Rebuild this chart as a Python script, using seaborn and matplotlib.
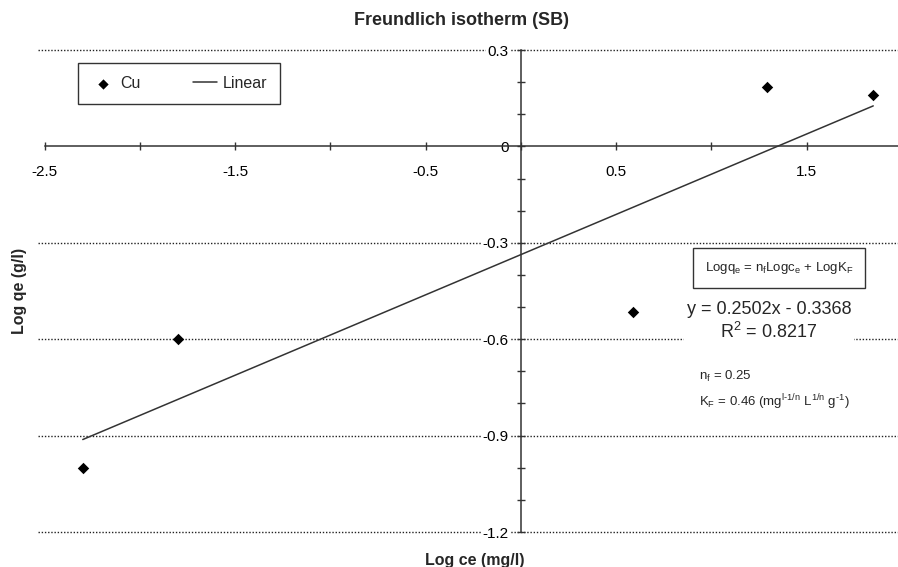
import numpy as np
import pandas as pd
import seaborn as sns
from matplotlib import pyplot as plt

# Freundlich isotherm data
log_ce = [-2.30, -1.80, 0.59, 1.29, 1.85]
log_qe = [-1.00, -0.60, -0.516, 0.184, 0.159]
slope = 0.2502
intercept = -0.3368
r2 = 0.8217

xtick_pos = [-2.5, -1.5, -0.5, 0.5, 1.5]
xtick_labels = ["-2.5", "-1.5", "-0.5", "0.5", "1.5"]
xtick_minor = [-2.0, -1.0, 0.0, 1.0]
ytick_pos = [-1.2, -0.9, -0.6, -0.3, 0.0, 0.3]
ytick_labels = ["-1.2", "-0.9", "-0.6", "-0.3", "0", "0.3"]
ytick_minor = [-1.1, -1.0, -0.8, -0.7, -0.5, -0.4, -0.2, -0.1, 0.1, 0.2]

sns.set_style("white")
plt.rcParams['font.family'] = ['Liberation Sans', 'DejaVu Sans']
plt.rcParams['mathtext.fontset'] = 'custom'
plt.rcParams['mathtext.rm'] = 'Liberation Sans'
plt.rcParams['mathtext.it'] = 'Liberation Sans:italic'
plt.rcParams['mathtext.default'] = 'regular'

df = pd.DataFrame({'log_ce': log_ce, 'log_qe': log_qe})
# fitted line over the data range
fit = pd.DataFrame({'x': [min(log_ce), max(log_ce)]})
fit['y'] = slope * fit.x + intercept

fig = plt.figure(figsize=(8.98, 5.67), dpi=100)
ax = fig.add_axes([38 / 898, 35 / 567, 860 / 898, 482 / 567])

sns.scatterplot(data=df, x='log_ce', y='log_qe', marker='D', color='black',
                s=34, edgecolor='black', linewidth=0, label='Cu', ax=ax, zorder=4)
sns.lineplot(data=fit, x='x', y='y', color='#333333', linewidth=1.1,
             label='Linear', ax=ax, zorder=3)

ax.set_xlim(-2.535, 1.98)
ax.set_ylim(-1.2, 0.3)

# dotted horizontal grid
for yv in ytick_pos:
    if yv != 0:
        ax.axhline(yv, color='#222222', linestyle=(0, (1, 1.3)), linewidth=1.0,
                   zorder=0.5, clip_on=False)

# axes crossing at origin
for side in ['top', 'right']:
    ax.spines[side].set_visible(False)
ax.spines['left'].set_position(('data', 0))
ax.spines['bottom'].set_position(('data', 0))
ax.spines['bottom'].set_bounds(-2.5, 1.98)
for side in ['left', 'bottom']:
    ax.spines[side].set_color('#333333')
    ax.spines[side].set_linewidth(1.1)

ax.set_xticks(xtick_pos)
ax.set_xticklabels(xtick_labels)
ax.set_xticks(xtick_minor, minor=True)
ax.set_yticks(ytick_pos)
ax.set_yticklabels(ytick_labels)
ax.set_yticks(ytick_minor, minor=True)
ax.tick_params(which='both', bottom=True, left=True, direction='inout', length=5.5,
               width=1, color='#333333', labelsize=11, labelcolor='black')
ax.tick_params(axis='y', which='major', pad=6)
ax.tick_params(axis='x', which='major', pad=11)
for lab in ax.get_yticklabels():
    lab.set_bbox(dict(facecolor='white', edgecolor='none', pad=1))

ax.set_title('Freundlich isotherm (SB)', fontsize=13, fontweight='bold', pad=18, x=0.492)
ax.set_xlabel('Log ce (mg/l)', fontsize=11.5, fontweight='bold')
ax.set_ylabel('Log qe (g/l)', fontsize=11.5, fontweight='bold')
ax.xaxis.set_label_coords(0.508, -0.043)
ax.yaxis.set_label_coords(-0.013, 0.5)

leg = ax.legend(loc='upper left', bbox_to_anchor=(0.0465, 0.973), borderaxespad=0,
                ncol=2, fontsize=11.5, frameon=True, fancybox=False, edgecolor='black',
                borderpad=0.8, columnspacing=3.3, handlelength=1.5, handletextpad=0.35,
                markerscale=0.9)
leg.get_frame().set_linewidth(1.0)

ax.text(0.862, 0.547, r'Logq$_e$ = n$_f$Logc$_e$ + LogK$_F$', transform=ax.transAxes,
        ha='center', va='center', fontsize=9.5,
        bbox=dict(boxstyle='square,pad=0.9', facecolor='white', edgecolor='#333333', linewidth=1))
ax.text(0.850, 0.437, f'y = {slope:.4f}x - {abs(intercept):.4f}\nR$^2$ = {r2:.4f}',
        transform=ax.transAxes, ha='center', va='center', fontsize=13, linespacing=1.25,
        bbox=dict(boxstyle='square,pad=0.15', facecolor='white', edgecolor='none'))
ax.text(0.769, 0.322, 'n$_f$ = 0.25', transform=ax.transAxes, ha='left', va='center', fontsize=9.5)
ax.text(0.769, 0.270, r'K$_F$ = 0.46 (mg$^{l\text{-}1/n}$ L$^{1/n}$ g$^{\text{-}1}$)',
        transform=ax.transAxes, ha='left', va='center', fontsize=9.5)

fig.savefig('out.png', dpi=100, facecolor='white')
